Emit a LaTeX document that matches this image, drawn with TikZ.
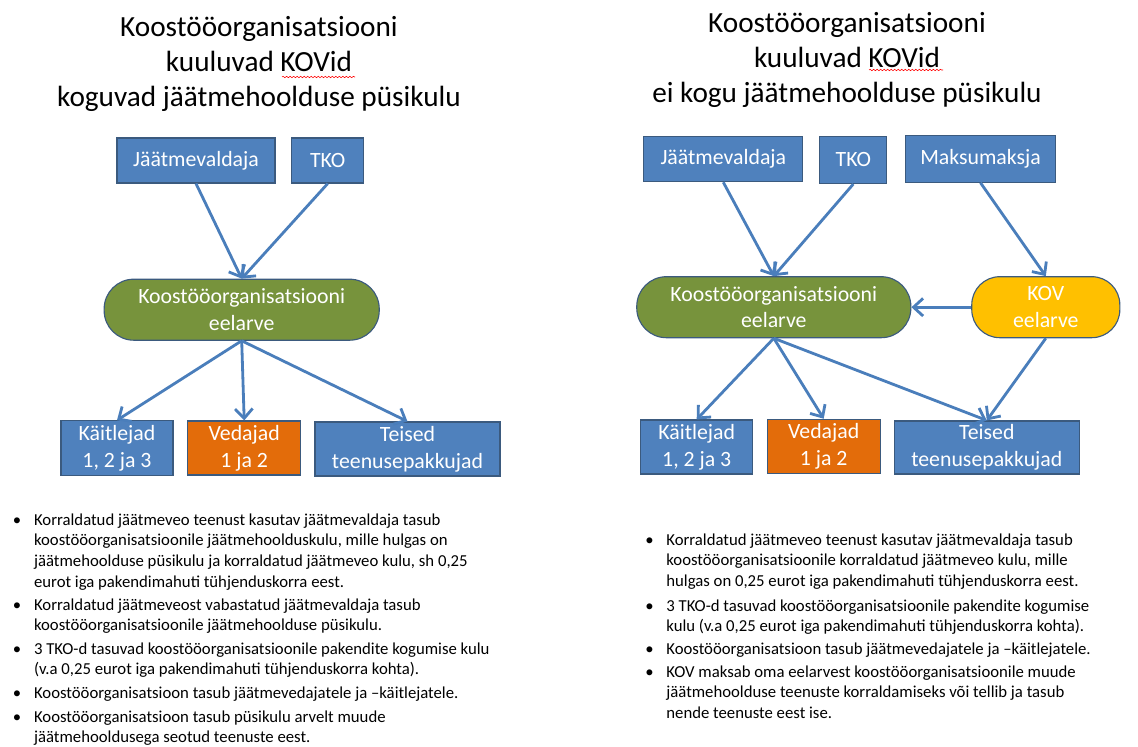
\documentclass[tikz,border=0pt]{standalone}
\usepackage{fontspec}
\setmainfont{Carlito}
\usetikzlibrary{arrows.meta,decorations.pathmorphing}

\definecolor{boxblue}{HTML}{4F81BD}
\definecolor{boxedge}{HTML}{3B5A7E}
\definecolor{budgetgreen}{HTML}{77933C}
\definecolor{haulorange}{HTML}{E36C0A}
\definecolor{kovgold}{HTML}{FFC000}
\definecolor{flowblue}{HTML}{4A7EBB}

\tikzset{
  actor/.style={draw=boxedge, line width=0.8pt, fill=boxblue, text=white, align=center, inner sep=0pt, font=\fontsize{15.5}{19}\selectfont},
  hauler/.style={actor, fill=haulorange},
  budget/.style={actor, fill=budgetgreen, rounded corners=0.74cm},
  kovbudget/.style={actor, fill=kovgold, rounded corners=0.7cm},
  flow/.style={draw=flowblue, line width=2pt, -{Straight Barb[length=2.4mm,width=4.4mm]}},
  heading/.style={anchor=base, inner sep=0pt, font=\fontsize{20.8}{24.7}\selectfont},
  note/.style={anchor=base west, inner sep=0pt, font=\fontsize{11.9}{14.8}\selectfont},
  squiggle/.style={red, line width=0.4pt, decorate, decoration={snake, amplitude=0.5pt, segment length=2.5pt}}
}

\newcommand{\notebullet}[1]{\makebox[15pt][l]{\textbullet}\begin{tabular}[t]{@{}l@{}}#1\end{tabular}}
\newcommand{\headlines}[1]{\begin{tabular}[t]{@{}c@{}}#1\end{tabular}}

\begin{document}
\begin{tikzpicture}[x=0.025cm, y=-0.025cm]

\useasboundingbox (0,0) rectangle (1138,747);

% left half: KOVs collect the fixed cost
\node (ltitle) [heading] at (259,37) {\headlines{Koostööorganisatsiooni\\kuuluvad KOVid\\koguvad jäätmehoolduse püsikulu}};
\draw [squiggle] (282,77) -- (355,77);

\node (lvaldaja) [actor, minimum width=3.95cm, minimum height=1.125cm] at (196,160.5) {Jäätmevaldaja};
\node (ltko) [actor, minimum width=1.8cm, minimum height=1.125cm] at (327.7,160.5) {TKO};

\node (lkoos) [budget, minimum width=6.875cm, minimum height=1.525cm] at (241.7,309.7) {Koostööorganisatsiooni\\eelarve};

\node (lkait) [actor, minimum width=2.8cm, minimum height=1.375cm] at (117,448.3) {Käitlejad\\1, 2 ja 3};
\node (lved) [hauler, minimum width=2.825cm, minimum height=1.35cm] at (244.2,448) {Vedajad\\1 ja 2};
\node (lteis) [actor, minimum width=4.625cm, minimum height=1.35cm] at (407.5,449) {Teised\\teenusepakkujad};

\draw [flow] (lvaldaja.south) -- (lkoos.north);
\draw [flow] (ltko.south) -- (lkoos.north);
\draw [flow] (lkoos.south) -- (lkait.north);
\draw [flow] (lkoos.south) -- (lved.north);
\draw [flow] (lkoos.south) -- (lteis.north);

\node (lnote1) [note] at (12.7,525) {\notebullet{Korraldatud jäätmeveo teenust kasutav jäätmevaldaja tasub\\koostööorganisatsioonile jäätmehoolduskulu, mille hulgas on\\jäätmehoolduse püsikulu ja korraldatud jäätmeveo kulu, sh 0,25\\eurot iga pakendimahuti tühjenduskorra eest.}};
\node (lnote2) [note] at (12.7,610) {\notebullet{Korraldatud jäätmeveost vabastatud jäätmevaldaja tasub\\koostööorganisatsioonile jäätmehoolduse püsikulu.}};
\node (lnote3) [note] at (12.7,654) {\notebullet{3 TKO-d tasuvad koostööorganisatsioonile pakendite kogumise kulu\\(v.a 0,25 eurot iga pakendimahuti tühjenduskorra kohta).}};
\node (lnote4) [note] at (12.7,698) {\notebullet{Koostööorganisatsioon tasub jäätmevedajatele ja –käitlejatele.}};
\node (lnote5) [note] at (12.7,722) {\notebullet{Koostööorganisatsioon tasub püsikulu arvelt muude\\jäätmehooldusega seotud teenuste eest.}};

% right half: KOVs do not collect the fixed cost
\node (rtitle) [heading] at (847,32.7) {\headlines{Koostööorganisatsiooni\\kuuluvad KOVid\\ei kogu jäätmehoolduse püsikulu}};
\draw [squiggle] (869,70) -- (943,70);

\node (rvaldaja) [actor, minimum width=3.975cm, minimum height=1.125cm] at (723.3,159.2) {Jäätmevaldaja};
\node (rtko) [actor, minimum width=1.675cm, minimum height=1.175cm] at (853.3,160) {TKO};
\node (rmaks) [actor, minimum width=3.75cm, minimum height=1.175cm] at (980.5,158.7) {Maksumaksja};

\node (rkoos) [budget, minimum width=6.85cm, minimum height=1.525cm] at (773.8,307.2) {Koostööorganisatsiooni\\eelarve};
\node (rkov) [kovbudget, minimum width=3.7cm, minimum height=1.525cm] at (1045.8,307.2) {KOV\\eelarve};

\node (rkait) [actor, minimum width=2.8cm, minimum height=1.35cm] at (696.7,447) {Käitlejad\\1, 2 ja 3};
\node (rved) [hauler, minimum width=2.825cm, minimum height=1.35cm] at (823.7,446.3) {Vedajad\\1 ja 2};
\node (rteis) [actor, minimum width=4.625cm, minimum height=1.325cm] at (986.8,447.5) {Teised\\teenusepakkujad};

\draw [flow] (rvaldaja.south) -- (rkoos.north);
\draw [flow] (rtko.south) -- (rkoos.north);
\draw [flow] (rmaks.south) -- (rkov.north);
\draw [flow] (rkov.west) -- (rkoos.east);
\draw [flow] (rkoos.south) -- (rkait.north);
\draw [flow] (rkoos.south) -- (rved.north);
\draw [flow] (rkoos.south) -- (rteis.north);
\draw [flow] (rkov.south) -- (rteis.north);

\node (rnote1) [note] at (645,545) {\notebullet{Korraldatud jäätmeveo teenust kasutav jäätmevaldaja tasub\\koostööorganisatsioonile korraldatud jäätmeveo kulu, mille\\hulgas on 0,25 eurot iga pakendimahuti tühjenduskorra eest.}};
\node (rnote2) [note] at (645,611) {\notebullet{3 TKO-d tasuvad koostööorganisatsioonile pakendite kogumise\\kulu (v.a 0,25 eurot iga pakendimahuti tühjenduskorra kohta).}};
\node (rnote3) [note] at (645,654) {\notebullet{Koostööorganisatsioon tasub jäätmevedajatele ja –käitlejatele.}};
\node (rnote4) [note] at (645,677) {\notebullet{KOV maksab oma eelarvest koostööorganisatsioonile muude\\jäätmehoolduse teenuste korraldamiseks või tellib ja tasub\\nende teenuste eest ise.}};

\end{tikzpicture}
\end{document}
